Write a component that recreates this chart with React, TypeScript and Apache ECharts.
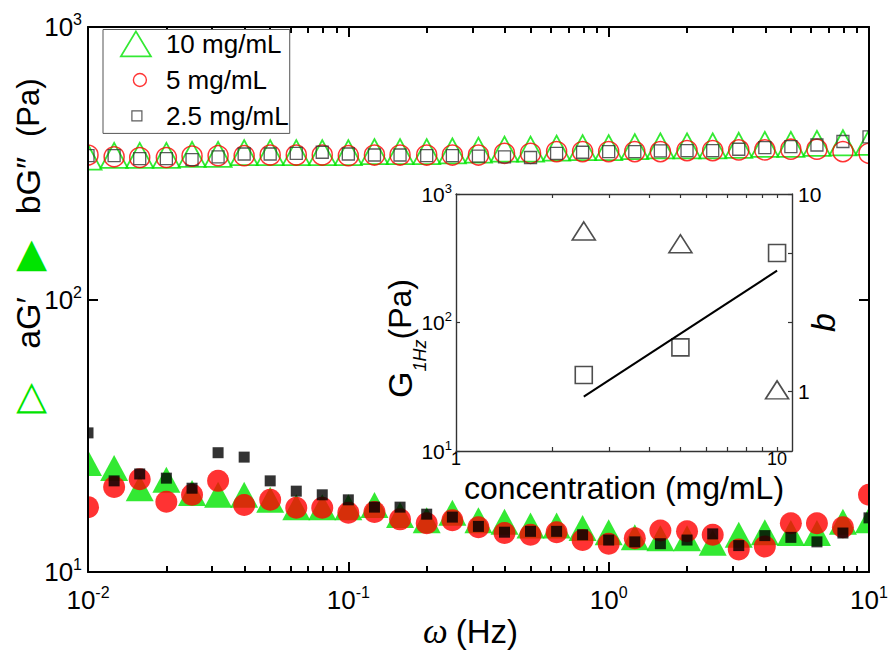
import React, { useEffect, useRef } from 'react';
import * as echarts from 'echarts';

// ---------- data ----------
const frequencyHz = [0.01, 0.0126, 0.0158, 0.02, 0.0251, 0.0316, 0.0398, 0.0501, 0.0631, 0.0794, 0.1, 0.126, 0.158, 0.2, 0.251, 0.316, 0.398, 0.501, 0.631, 0.794, 1, 1.26, 1.58, 2, 2.51, 3.16, 3.98, 5.01, 6.31, 7.94, 10];

// G'' (open symbols)
const gLoss10 = [333, 338, 338, 338, 341, 341, 346, 346, 346, 346, 346, 349, 349, 349, 351, 353, 356, 356, 359, 361, 361, 364, 366, 366, 366, 368, 371, 371, 374, 376, 377];
const gLoss5 = [339, 334, 332, 332, 336, 337, 337, 339, 339, 339, 337, 339, 339, 339, 339, 339, 344, 344, 349, 349, 349, 349, 349, 352, 352, 354, 354, 356, 356, 349, 344];
const gLoss25 = [337, 337, 329, 329, 326, 334, 342, 342, 344, 347, 342, 339, 339, 337, 337, 336, 334, 332, 344, 347, 349, 349, 351, 352, 352, 356, 361, 364, 369, 380, 395];

// G' (filled symbols)
const gStore10 = [25.1, 24.1, 20.3, 21.8, 19.5, 19.2, 19.2, 18.4, 17.3, 17.3, 17.3, 17.6, 16.2, 15.5, 16.5, 15.5, 15.3, 14.8, 14.8, 14.5, 14.0, 13.4, 13.3, 13.3, 12.8, 13.7, 14.0, 13.9, 13.9, 15.3, 15.5];
const gStore5 = [17.3, 20.5, 21.9, 18.1, 19.2, 21.6, 17.6, 18.4, 17.2, 17.2, 16.5, 16.6, 15.6, 15.1, 15.5, 14.6, 13.9, 13.7, 14.0, 13.1, 12.7, 13.3, 14.2, 14.1, 13.7, 12.1, 12.4, 15.1, 15.1, 14.6, 19.2];
const gStore25 = [32.4, 21.6, 22.9, 22.1, 20.3, 27.4, 26.4, 21.6, 19.8, 19.2, 18.4, 17.3, 17.3, 16.3, 15.9, 14.7, 14.0, 14.1, 14.1, 13.7, 13.1, 12.9, 12.7, 13.1, 13.8, 12.5, 13.6, 13.4, 12.9, 13.9, 15.8];

const legendNames = ['10 mg/mL', '5 mg/mL', '2.5 mg/mL'];

// inset
const concentration = [2.5, 5, 10];
const g1Hz = [39, 64, 347];
const bExponent = [6.5, 5.6, 1.02];
const fitConcentration = [2.5, 10];
const fitG1Hz = [26.5, 253];

// tick values
const mainMinorTicks = [0.02, 0.03, 0.04, 0.05, 0.06, 0.07, 0.08, 0.09, 0.2, 0.3, 0.4, 0.5, 0.6, 0.7, 0.8, 0.9, 2, 3, 4, 5, 6, 7, 8, 9];
const insetXTicks = [2, 3, 4, 5, 6, 7, 8, 9, 10];
const insetXLabels = [1, 10];
const bTicks = [1, 2.25, 5, 10];
const bLabels = [1, 10];

// ---------- styles ----------
const GREEN = '#00e400';
const RED = '#ff0000';
const SANS = 'Liberation Sans, Arial, sans-serif';

const pow10 = (v: number) => `{b|10}{s|${Math.round(Math.log10(v))}}`;

// legend icons: a 40x25 box (anchored by two move-to points) holding the marker
const ICON_TRIANGLE = 'path://M0 0 M40 25 M15 0 L30 25 L0 25 Z';
const ICON_CIRCLE = 'path://M0 0 M40 25 M12.5 12.5 A6.5 6.5 0 1 1 25.5 12.5 A6.5 6.5 0 1 1 12.5 12.5 Z';
const ICON_SQUARE = 'path://M0 0 M40 25 M11 7.5 L21 7.5 L21 17.5 L11 17.5 Z';

export default function App() {
  const ref = useRef<HTMLDivElement>(null);

  useEffect(() => {
    if (!ref.current) return;
    const chart = echarts.init(ref.current, undefined, { renderer: 'svg' });
    const pts = (ys: number[]) => frequencyHz.map((f, i) => [f, ys[i]]);

    const mainLabelRich = {
      b: { fontSize: 26, fontFamily: SANS, color: '#000' },
      s: { fontSize: 16, fontFamily: SANS, color: '#000', padding: [0, 0, 15, 0] },
    };
    const insetLabelRich = {
      b: { fontSize: 21, fontFamily: SANS, color: '#000' },
      s: { fontSize: 13, fontFamily: SANS, color: '#000', padding: [0, 0, 12, 0] },
    };
    const mainLine = { lineStyle: { color: '#000', width: 2 } };
    const insetLine = { lineStyle: { color: '#333', width: 1.4 } };

    const mainX = (position: string, major: boolean, extra: any = {}) => ({
      gridIndex: 0,
      type: 'log',
      min: 0.01,
      max: 10,
      position,
      z: 10,
      axisLine: major ? { show: true, ...mainLine } : { show: false },
      axisTick: major
        ? { show: true, inside: true, length: 10, lineStyle: { color: '#000', width: 2 } }
        : { show: true, inside: true, length: 6, customValues: mainMinorTicks, lineStyle: { color: '#000', width: 2 } },
      axisLabel: { show: false },
      splitLine: { show: false },
      minorTick: { show: false },
      ...extra,
    });

    const insetX = (position: string, extra: any = {}) => ({
      gridIndex: 1,
      type: 'log',
      min: 1,
      max: 11.13,
      position,
      z: 10,
      axisLine: { show: true, ...insetLine },
      axisTick: { show: true, inside: true, length: 4, customValues: insetXTicks, lineStyle: { color: '#333', width: 1.2 } },
      axisLabel: { show: false },
      splitLine: { show: false },
      ...extra,
    });

    const option: any = {
      animation: false,
      backgroundColor: '#fff',
      grid: [
        { left: 88, top: 27, width: 781, height: 545, show: false, outerBoundsMode: 'none', containLabel: false },
        { left: 456, top: 194, width: 336, height: 257, show: true, backgroundColor: '#fff', borderWidth: 0, outerBoundsMode: 'none', containLabel: false },
      ],
      legend: {
        show: true,
        orient: 'vertical',
        left: 103,
        top: 29.5,
        padding: [1, 1, 4.5, 17],
        itemWidth: 40,
        itemHeight: 25,
        itemGap: 9.5,
        selectedMode: false,
        symbolKeepAspect: true,
        backgroundColor: '#fff',
        borderColor: '#555',
        borderWidth: 1,
        borderRadius: 0,
        z: 12,
        textStyle: { fontSize: 26, fontFamily: SANS, color: '#000' },
        data: [
          { name: legendNames[0], icon: ICON_TRIANGLE, itemStyle: { color: 'rgba(0,0,0,0)', borderColor: GREEN, borderWidth: 1.8 } },
          { name: legendNames[1], icon: ICON_CIRCLE, itemStyle: { color: 'rgba(0,0,0,0)', borderColor: RED, borderWidth: 1.4 } },
          { name: legendNames[2], icon: ICON_SQUARE, itemStyle: { color: 'rgba(0,0,0,0)', borderColor: '#333', borderWidth: 1.2 } },
        ],
      },
      xAxis: [
        mainX('bottom', true, {
          axisLabel: { show: true, margin: 12, formatter: pow10, rich: mainLabelRich },
          name: '{w|ω}{t|(Hz)}',
          nameLocation: 'middle',
          nameGap: 42,
          nameMoveOverlap: false,
          nameTextStyle: {
            padding: [0, 16, 0, 0],
            rich: {
              w: { fontSize: 35, fontFamily: 'Liberation Serif, serif', fontStyle: 'italic', color: '#000' },
              t: { fontSize: 33, fontFamily: SANS, color: '#000', padding: [0, 0, 0, 8] },
            },
          },
        }),
        mainX('bottom', false),
        mainX('top', true),
        mainX('top', false),
        insetX('bottom', {
          axisLabel: { show: true, customValues: insetXLabels, margin: 0, fontSize: 18, lineHeight: 15, fontFamily: SANS, color: '#000', formatter: (v: number) => String(Math.round(v)) },
          name: 'concentration (mg/mL)',
          nameLocation: 'middle',
          nameGap: 22,
          nameMoveOverlap: false,
          nameTextStyle: { fontSize: 32, lineHeight: 30, fontFamily: SANS, color: '#000' },
        }),
        insetX('top'),
      ],
      yAxis: [
        {
          gridIndex: 0,
          type: 'log',
          min: 10,
          max: 1000,
          position: 'left',
          z: 10,
          axisLine: { show: true, ...mainLine },
          axisTick: { show: true, inside: true, length: 10, lineStyle: { color: '#000', width: 2 } },
          axisLabel: { show: true, margin: 6, formatter: pow10, rich: mainLabelRich },
          splitLine: { show: false },
          name: '{to|▷}{t1|aG′}{tf|▶}{t2|bG″}{t3|(Pa)}',
          nameLocation: 'middle',
          nameGap: 40,
          nameMoveOverlap: false,
          nameTextStyle: {
            padding: [0, 0, 0, 107],
            rich: {
              to: { fontSize: 40, fontFamily: 'DejaVu Sans', color: GREEN },
              tf: { fontSize: 40, fontFamily: 'DejaVu Sans', color: GREEN },
              t1: { fontSize: 34, fontFamily: SANS, color: '#000', padding: [0, 26, 0, 34] },
              t2: { fontSize: 34, fontFamily: SANS, color: '#000', padding: [0, 0, 0, 26] },
              t3: { fontSize: 31, fontFamily: SANS, color: '#000', padding: [0, 0, 0, 20] },
            },
          },
        },
        {
          gridIndex: 0,
          type: 'log',
          min: 10,
          max: 1000,
          position: 'right',
          z: 10,
          axisLine: { show: true, ...mainLine },
          axisTick: { show: true, inside: true, length: 10, lineStyle: { color: '#000', width: 2 } },
          axisLabel: { show: false },
          splitLine: { show: false },
        },
        {
          gridIndex: 1,
          type: 'log',
          min: 10,
          max: 1000,
          position: 'left',
          z: 10,
          axisLine: { show: true, ...insetLine },
          axisTick: { show: true, inside: true, length: 4, lineStyle: { color: '#333', width: 1.2 } },
          axisLabel: { show: true, margin: 4, formatter: pow10, rich: insetLabelRich },
          splitLine: { show: false },
          name: '{g|G}{s|1Hz}{p|(Pa)}',
          nameLocation: 'middle',
          nameGap: 27,
          nameMoveOverlap: false,
          nameTextStyle: {
            padding: [0, 32, 0, 0],
            rich: {
              g: { fontSize: 34, fontFamily: SANS, color: '#000' },
              s: { fontSize: 18, fontFamily: SANS, fontStyle: 'italic', color: '#000', padding: [40, 0, 0, 0] },
              p: { fontSize: 32, fontFamily: SANS, color: '#000' },
            },
          },
        },
        {
          gridIndex: 1,
          type: 'log',
          min: 0.5,
          max: 10,
          position: 'right',
          z: 10,
          axisLine: { show: true, ...insetLine },
          axisTick: { show: true, inside: true, length: 4, customValues: bTicks, lineStyle: { color: '#333', width: 1.2 } },
          axisLabel: { show: true, customValues: bLabels, margin: 6, fontSize: 21, fontFamily: SANS, color: '#000', formatter: (v: number) => String(Math.round(v)) },
          splitLine: { show: false },
          name: 'b',
          nameLocation: 'middle',
          nameGap: 14,
          nameMoveOverlap: false,
          nameTextStyle: { fontSize: 34, fontFamily: SANS, fontStyle: 'italic', color: '#000' },
        },
      ],
      series: [
        // G' filled
        { type: 'scatter', name: "G' 10", xAxisIndex: 0, yAxisIndex: 0, data: pts(gStore10), symbol: 'triangle', symbolSize: [28, 26], itemStyle: { color: GREEN }, silent: true },
        { type: 'scatter', name: "G' 5", xAxisIndex: 0, yAxisIndex: 0, data: pts(gStore5), symbol: 'circle', symbolSize: 22, itemStyle: { color: RED }, silent: true },
        { type: 'scatter', name: "G' 2.5", xAxisIndex: 0, yAxisIndex: 0, data: pts(gStore25), symbol: 'rect', symbolSize: 11, itemStyle: { color: '#000' }, silent: true },
        // G'' open
        { type: 'scatter', name: legendNames[0], xAxisIndex: 0, yAxisIndex: 0, data: pts(gLoss10), symbol: 'triangle', symbolSize: [27, 25], itemStyle: { color: 'rgba(0,0,0,0)', borderColor: GREEN, borderWidth: 1.8 }, silent: true },
        { type: 'scatter', name: legendNames[1], xAxisIndex: 0, yAxisIndex: 0, data: pts(gLoss5), symbol: 'circle', symbolSize: 20, itemStyle: { color: 'rgba(0,0,0,0)', borderColor: RED, borderWidth: 1.5 }, silent: true },
        { type: 'scatter', name: legendNames[2], xAxisIndex: 0, yAxisIndex: 0, data: pts(gLoss25), symbol: 'rect', symbolSize: 12, itemStyle: { color: 'rgba(0,0,0,0)', borderColor: '#333', borderWidth: 1.3 }, silent: true },
        // white bands just outside the plot frame: trim the markers sitting on the edges, as the original plot clips them
        {
          type: 'custom',
          name: 'edge-trim',
          xAxisIndex: 0,
          yAxisIndex: 0,
          z: 4,
          clip: false,
          silent: true,
          data: [[0.01, 10]],
          renderItem: (params: any) => {
            const cs = params.coordSys;
            return {
              type: 'group',
              children: [
                { type: 'rect', shape: { x: cs.x - 28, y: cs.y, width: 27, height: cs.height }, style: { fill: '#fff' } },
                { type: 'rect', shape: { x: cs.x + cs.width + 1, y: cs.y, width: 19, height: cs.height }, style: { fill: '#fff' } },
              ],
            };
          },
        },
        // inset
        { type: 'line', name: 'fit', xAxisIndex: 4, yAxisIndex: 2, data: fitConcentration.map((c, i) => [c, fitG1Hz[i]]), symbol: 'none', lineStyle: { color: '#000', width: 2 }, silent: true },
        { type: 'scatter', name: 'G1Hz', xAxisIndex: 4, yAxisIndex: 2, data: concentration.map((c, i) => [c, g1Hz[i]]), symbol: 'rect', symbolSize: 17, itemStyle: { color: 'rgba(255,255,255,0)', borderColor: '#222', borderWidth: 1.6 }, silent: true },
        { type: 'scatter', name: 'b', xAxisIndex: 4, yAxisIndex: 3, data: concentration.map((c, i) => [c, bExponent[i]]), symbol: 'triangle', symbolSize: [23, 18], itemStyle: { color: 'rgba(255,255,255,0)', borderColor: '#222', borderWidth: 1.6 }, silent: true },
      ],
    };

    chart.setOption(option);
    return () => chart.dispose();
  }, []);

  return <div ref={ref} style={{ position: 'fixed', left: 0, top: 0, width: 888, height: 655, background: '#fff' }} />;
}
